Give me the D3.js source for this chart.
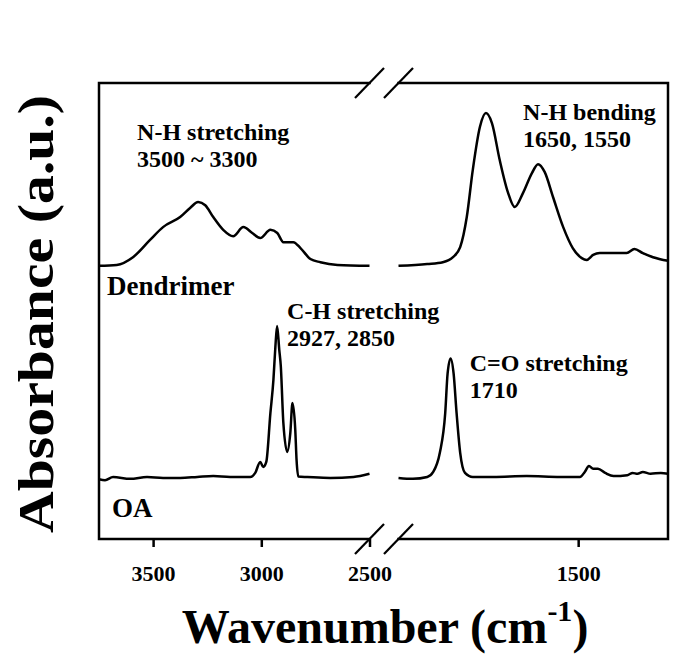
<!DOCTYPE html>
<html>
<head>
<meta charset="utf-8">
<script src="https://cdn.jsdelivr.net/npm/d3@7"></script>
<style>
  html, body { margin: 0; padding: 0; background: #fff; }
  svg { display: block; }
  text { font-family: "Liberation Serif", "Times New Roman", serif; font-weight: bold; fill: #000; }
</style>
</head>
<body>
<div id="chart"></div>
<script>
// ---------- DATA ----------
// Left panel (high wavenumber) : 3750 -> 2500 cm-1
const dendLeftWn  = [3750,3668,3593,3514,3454,3375,3329,3292,3259,3222,3176,3130,3083,3042,3005,2958,2926,2898,2852,2819,2773,2727,2648,2500];
const dendLeftAbs = [5.99,6.01,6.18,6.56,6.84,7.06,7.26,7.39,7.32,7.06,6.78,6.64,6.84,6.71,6.60,6.78,6.71,6.51,6.51,6.38,6.14,6.07,6.01,5.99];

const oaLeftWn  = [3750,3722,3685,3606,3528,3454,3375,3296,3222,3144,3051,3028,3005,2991,2977,2958,2944,2935,2927,2917,2910,2898,2880,2866,2856,2843,2837,2829,2787,2681,2574,2500];
const oaLeftAbs = [1.31,1.29,1.36,1.32,1.36,1.34,1.34,1.36,1.38,1.36,1.36,1.45,1.69,1.58,1.69,2.76,3.49,4.21,4.67,4.15,3.80,2.54,1.91,2.32,2.98,2.39,1.73,1.37,1.36,1.34,1.36,1.43];

// Right panel (low wavenumber) : 1800 -> 1350 cm-1
const dendRightWn  = [1800,1752,1726,1709,1697,1686,1676,1664,1654,1644,1631,1617,1606,1592,1577,1567,1556,1542,1525,1509,1494,1486,1475,1464,1436,1419,1406,1392,1375,1350];
const dendRightAbs = [5.99,6.03,6.07,6.18,6.40,7.06,8.09,9.04,9.34,9.12,8.31,7.59,7.28,7.59,8.03,8.22,8.05,7.50,6.84,6.38,6.16,6.12,6.23,6.27,6.27,6.27,6.36,6.27,6.18,6.10];

const oaRightWn  = [1800,1776,1752,1742,1731,1722,1718,1713,1708,1703,1697,1689,1676,1642,1586,1530,1497,1489,1482,1475,1467,1455,1441,1418,1409,1401,1392,1379,1362,1350];
const oaRightAbs = [1.34,1.32,1.36,1.47,1.89,2.76,3.63,3.96,3.63,2.76,1.89,1.45,1.36,1.36,1.38,1.36,1.36,1.47,1.60,1.54,1.54,1.45,1.38,1.40,1.45,1.43,1.47,1.43,1.45,1.43];

const leftDomain  = [3750, 2500];
const rightDomain = [1800, 1350];
const leftTicks   = [3500, 3000, 2500];
const rightTicks  = [1500];

const xTitle = "Wavenumber (cm";
const xTitleSup = "-1";
const yTitle = "Absorbance (a.u.)";

const annotations = [
  {panel: "L", wn: 3574, v: 8.75, lines: ["N-H stretching", "3500 ~ 3300"]},
  {panel: "R", wn: 1592, v: 9.19, lines: ["N-H bending", "1650, 1550"]},
  {panel: "L", wn: 2881, v: 4.82, lines: ["C-H stretching", "2927, 2850"]},
  {panel: "R", wn: 1681, v: 3.69, lines: ["C=O stretching", "1710"]}
];
const seriesLabels = [
  {name: "Dendrimer", wn: 3713, v: 5.35},
  {name: "OA", wn: 3690, v: 0.48}
];

// ---------- LAYOUT ----------
const W = 694, H = 654;
const mLeft = 99, mRight = 668, mTop = 83, mBottom = 539;
const leftEnd = 369.5, rightStart = 398.5;

const svg = d3.select("#chart").append("svg").attr("width", W).attr("height", H);

const xL = d3.scaleLinear().domain(leftDomain).range([mLeft, leftEnd]);
const xR = d3.scaleLinear().domain(rightDomain).range([rightStart, mRight]);
const y = d3.scaleLinear().domain([0, 10]).range([mBottom, mTop]);

const zip = (a, b) => a.map((d, i) => [d, b[i]]);

function drawLine(x, wn, ab) {
  const line = d3.line().x(d => x(d[0])).y(d => y(d[1])).curve(d3.curveMonotoneX);
  svg.append("path").datum(zip(wn, ab))
    .attr("d", line).attr("fill", "none").attr("stroke", "#000")
    .attr("stroke-width", 2.5).attr("stroke-linejoin", "round");
}
drawLine(xL, dendLeftWn, dendLeftAbs);
drawLine(xL, oaLeftWn, oaLeftAbs);
drawLine(xR, dendRightWn, dendRightAbs);
drawLine(xR, oaRightWn, oaRightAbs);

// Frame
const frame = svg.append("g").attr("stroke", "#000").attr("stroke-width", 2.5).attr("fill", "none");
const xl0 = xL(leftDomain[0]), xl1 = xL(leftDomain[1]);
const xr0 = xR(rightDomain[0]), xr1 = xR(rightDomain[1]);
frame.append("path").attr("d", `M${xl1},${mTop}H${xl0}V${mBottom}H${xl1}`).attr("stroke-linecap", "square");
frame.append("path").attr("d", `M${xr0},${mTop}H${xr1}V${mBottom}H${xr0}`).attr("stroke-linecap", "square");

// Break marks
const br = svg.append("g").attr("stroke", "#000").attr("stroke-width", 2.2);
[mTop, mBottom].forEach(yy => {
  [xl1, xr0].forEach(xx => {
    br.append("line").attr("x1", xx - 14.5).attr("y1", yy + 15).attr("x2", xx + 14.5).attr("y2", yy - 15);
  });
});

// Axes
function styleAxis(g) {
  g.select(".domain").remove();
  g.selectAll(".tick line").attr("stroke", "#000").attr("stroke-width", 2.5);
  g.selectAll(".tick text").attr("y", 42).attr("dy", 0)
    .style("font-size", "22px").style("font-family", "Liberation Serif, serif").style("font-weight", "bold");
}
svg.append("g").attr("transform", `translate(0,${mBottom})`)
  .call(d3.axisBottom(xL).tickValues(leftTicks).tickSize(8).tickFormat(d3.format("d")))
  .call(styleAxis);
svg.append("g").attr("transform", `translate(0,${mBottom})`)
  .call(d3.axisBottom(xR).tickValues(rightTicks).tickSize(8).tickFormat(d3.format("d")))
  .call(styleAxis);

// Annotations
annotations.forEach(a => {
  const x = a.panel === "L" ? xL(a.wn) : xR(a.wn);
  const t = svg.append("text").attr("x", x).attr("y", y(a.v)).style("font-size", "24px");
  a.lines.forEach((s, i) => {
    t.append("tspan").attr("x", x).attr("dy", i === 0 ? 0 : 27).text(s);
  });
});
seriesLabels.forEach(s => {
  svg.append("text").attr("x", xL(s.wn)).attr("y", y(s.v)).style("font-size", "27px").text(s.name);
});

// Axis titles
const xt = svg.append("text").attr("x", 385).attr("y", 643).attr("text-anchor", "middle")
  .style("font-size", "48px");
xt.append("tspan").text(xTitle);
xt.append("tspan").attr("dy", -22).style("font-size", "30px").text(xTitleSup);
xt.append("tspan").attr("dy", 22).text(")");

svg.append("text").attr("transform", "translate(53,314) rotate(-90)")
  .attr("text-anchor", "middle").style("font-size", "50px")
  .attr("textLength", 438).attr("lengthAdjust", "spacingAndGlyphs")
  .text(yTitle);
</script>
</body>
</html>
